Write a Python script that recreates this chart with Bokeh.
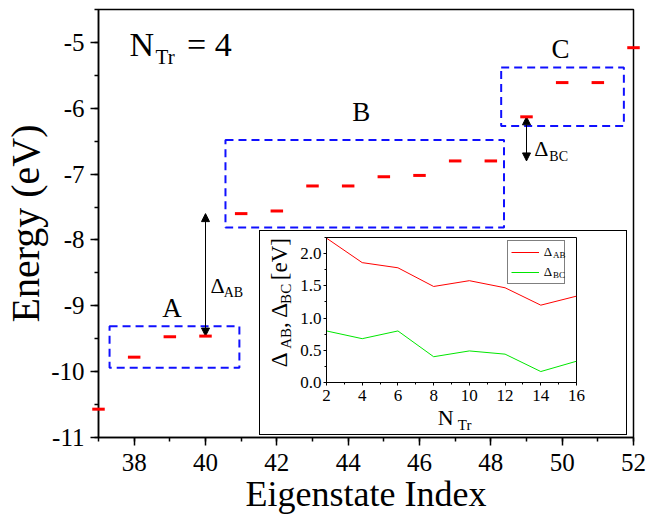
import math
from bokeh.plotting import figure
from bokeh.models import (SingleIntervalTicker, Arrow, NormalHead, Legend,
                          LegendItem, Range1d, PrintfTickFormatter)
from bokeh.core.properties import value
from bokeh.layouts import column
from bokeh.embed import file_html
from bokeh.resources import INLINE

# ---------------- data ----------------
index = list(range(37, 53))
energy = [-10.57, -9.78, -9.47, -9.46, -7.60, -7.56, -7.18, -7.18,
          -7.04, -7.02, -6.80, -6.80, -6.13, -5.61, -5.61, -5.08]

group_names = ["A", "B", "C"]
group_left = [37.31, 40.56, 48.29]
group_right = [40.95, 48.37, 51.73]
group_bottom = [-9.94, -7.81, -6.27]
group_top = [-9.31, -6.48, -5.38]
group_label_x = [39.06, 44.37, 49.95]
group_label_y = [-9.04, -6.06, -5.10]

n_tr = [2, 4, 6, 8, 10, 12, 14, 16]
delta_ab = [2.24, 1.86, 1.78, 1.49, 1.58, 1.47, 1.20, 1.34]
delta_bc = [0.80, 0.68, 0.80, 0.40, 0.49, 0.44, 0.17, 0.33]

FONT = "Liberation Serif"

# ---------------- main figure ----------------
p = figure(width=661, height=517, x_range=Range1d(37, 52), y_range=Range1d(-11, -4.5),
           output_backend="svg", toolbar_location=None, frame_align=False,
           min_border_left=98, min_border_right=28, min_border_top=9, min_border_bottom=80)
p.xgrid.visible = False
p.ygrid.visible = False
p.outline_line_color = "black"
p.outline_line_width = 1.5
p.border_fill_color = "white"

p.xaxis.ticker = SingleIntervalTicker(interval=2, num_minor_ticks=2)
p.yaxis.ticker = SingleIntervalTicker(interval=1, num_minor_ticks=2)
p.xaxis.formatter = PrintfTickFormatter(format="%d")
p.yaxis.formatter = PrintfTickFormatter(format="%d")
for ax in (p.xaxis[0], p.yaxis[0]):
    ax.axis_line_width = 1.5
    ax.major_tick_line_width = 1.5
    ax.minor_tick_line_width = 1.5
    ax.major_tick_out = 8
    ax.major_tick_in = 0
    ax.minor_tick_out = 4
    ax.minor_tick_in = 0
    ax.major_label_text_font = FONT
    ax.major_label_text_font_size = "25px"
    ax.major_label_text_color = "black"
    ax.axis_label_text_font = FONT
    ax.axis_label_text_font_style = "normal"
    ax.axis_label_text_color = "black"
p.xaxis.axis_label = "Eigenstate Index"
p.yaxis.axis_label = "Energy (eV)"
p.xaxis.axis_label_text_font_size = "36px"
p.yaxis.axis_label_text_font_size = "40px"
p.xaxis.major_label_standoff = 8
p.xaxis.axis_label_standoff = 0
p.yaxis.major_label_standoff = 6
p.yaxis.axis_label_standoff = 0

# dashed group boxes
p.quad(left=group_left, right=group_right, bottom=group_bottom, top=group_top,
       fill_alpha=0, line_color="#1010ff", line_width=2, line_dash="8 5")

# energy levels
p.scatter(index, energy, marker="dash", size=12.5, line_width=3, color="#ff0000", level="overlay")

# group labels
p.text(x=group_label_x, y=group_label_y, text=group_names, text_align="center",
       text_baseline="middle", text_font=value(FONT), text_font_size=value("27px"),
       text_color="black", level="overlay")

# N_Tr = 4
p.text(x=[37.87, 39.48], y=[-5.026, -5.026], text=["N", "= 4"], text_font=value(FONT),
       text_font_size=value("34px"), text_baseline="middle", text_align="left",
       text_color="black", level="overlay")
p.text(x=[38.60], y=[-5.223], text=["Tr"], text_font=value(FONT),
       text_font_size=value("21px"), text_baseline="middle", text_align="left",
       text_color="black", level="overlay")

# gap arrows derived from the level data
i40 = index.index(40)
i41 = index.index(41)
i48 = index.index(48)
i49 = index.index(49)
for xa, ys, ye in ((40, energy[i40], energy[i41]), (49, energy[i49], energy[i48])):
    p.add_layout(Arrow(x_start=xa, y_start=ys, x_end=xa, y_end=ye,
                       line_width=1, line_color="black",
                       start=NormalHead(size=8, fill_color="black", line_color="black"),
                       end=NormalHead(size=8, fill_color="black", line_color="black")))
p.text(x=[40.14, 49.22], y=[-8.687, -6.617], text=["Δ", "Δ"], text_font=value(FONT),
       text_font_size=value("22px"), text_baseline="middle", text_color="black",
       level="overlay")
p.text(x=[40.51, 49.64], y=[-8.798, -6.728], text=["AB", "BC"], text_font=value(FONT),
       text_font_size=value("14px"), text_baseline="middle", text_color="black",
       level="overlay")

# ---------------- inset ----------------
inset = figure(width=366, height=203, x_range=Range1d(2, 16), y_range=Range1d(0, 2.25),
               output_backend="svg", toolbar_location=None, frame_align=False,
               min_border_left=66, min_border_right=50, min_border_top=6, min_border_bottom=52)
inset.styles = {"position": "absolute", "left": "260px", "top": "231px",
                "outline": "1px solid black"}
inset.xgrid.visible = False
inset.ygrid.visible = False
inset.outline_line_color = "black"
inset.outline_line_width = 1
inset.border_fill_color = "white"
inset.xaxis.ticker = SingleIntervalTicker(interval=2, num_minor_ticks=2)
inset.yaxis.ticker = SingleIntervalTicker(interval=0.5, num_minor_ticks=2)
inset.xaxis.formatter = PrintfTickFormatter(format="%d")
inset.yaxis.formatter = PrintfTickFormatter(format="%.1f")
for ax in (inset.xaxis[0], inset.yaxis[0]):
    ax.axis_line_width = 1
    ax.major_tick_out = 3
    ax.major_tick_in = 0
    ax.minor_tick_out = 2
    ax.minor_tick_in = 0
    ax.major_label_text_font = FONT
    ax.major_label_text_font_size = "17px"
    ax.major_label_text_color = "black"
inset.xaxis.major_label_standoff = 4
inset.yaxis.major_label_standoff = 2

r_ab = inset.line(n_tr, delta_ab, color="#ff0000", line_width=1)
r_bc = inset.line(n_tr, delta_bc, color="#00e600", line_width=1)

legend = Legend(items=[LegendItem(label="Δ", renderers=[r_ab]),
                       LegendItem(label="Δ", renderers=[r_bc])],
                location=(180.7, 98.5), margin=0, padding=3, spacing=4,
                glyph_width=28, glyph_height=16, label_height=16, label_width=17,
                label_standoff=5, label_text_font=FONT, label_text_font_size="13px",
                label_text_color="black",
                border_line_color="black", border_line_width=1, background_fill_alpha=0)
inset.add_layout(legend)
inset.text(x=[14.68, 14.68], y=[1.974, 1.662], text=["AB", "BC"], text_font=value(FONT),
           text_font_size=value("9px"), text_baseline="middle", text_color="black",
           level="overlay")

# inset x label N_Tr
inset.text(x=[8.23], y=[-0.548], text=["N"], text_font=value(FONT),
           text_font_size=value("22px"), text_baseline="middle", text_color="black",
           level="overlay")
inset.text(x=[9.35], y=[-0.662], text=["Tr"], text_font=value(FONT),
           text_font_size=value("15px"), text_baseline="middle", text_color="black",
           level="overlay")

# inset y label  Δ_AB, Δ_BC [eV]  (rotated)
ang = math.pi / 2
inset.text(x=[-0.642, -0.642, -0.642], y=[0.237, 0.846, 1.588], text=["Δ", ", Δ", "[eV]"],
           angle=ang, text_font=value(FONT), text_font_size=value("23px"),
           text_baseline="middle", text_align="left", text_color="black", level="overlay")
inset.text(x=[-0.249, -0.249], y=[0.523, 1.22], text=["AB", "BC"],
           angle=ang, text_font=value(FONT), text_font_size=value("15px"),
           text_baseline="middle", text_align="left", text_color="black", level="overlay")

layout = column(p, inset)
open("out.html", "w").write(file_html(layout, INLINE))
